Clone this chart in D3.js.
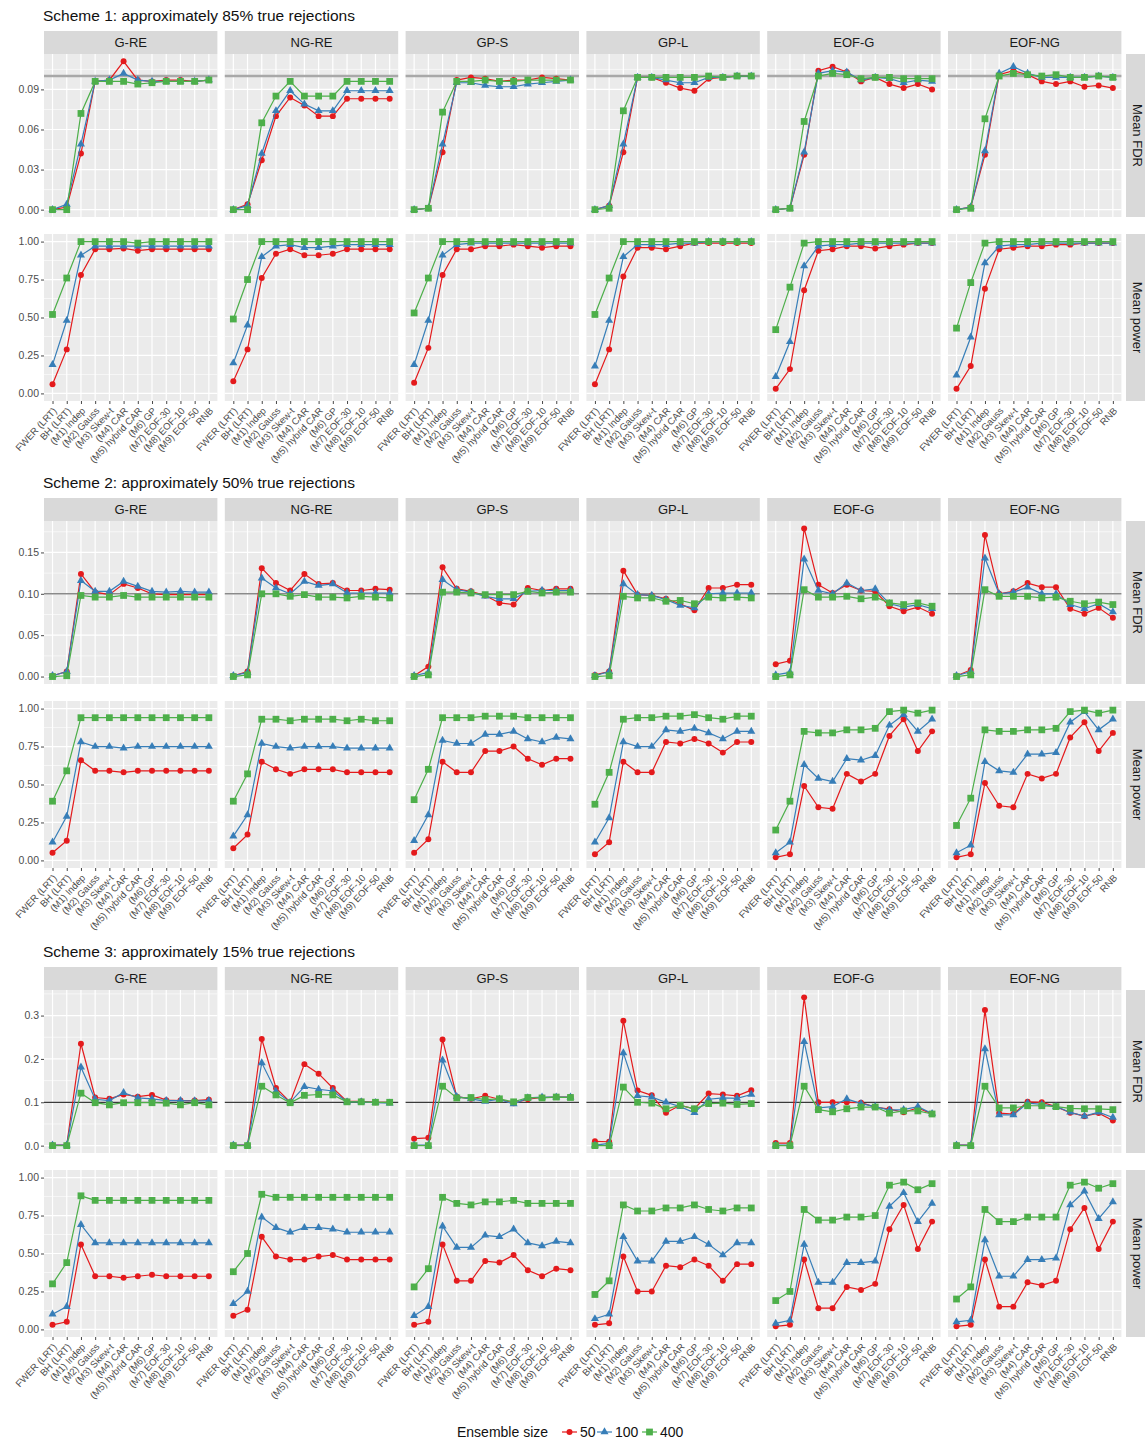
<!doctype html>
<html>
<head>
<meta charset="utf-8">
<style>
  body { margin: 0; background: #fff; }
  svg { display: block; font-family: "Liberation Sans", Arial, Helvetica, sans-serif; }
</style>
<script src="https://d3js.org/d3.v7.min.js"></script>
</head>
<body>
<script>
// categories
var methods = ["FWER (LRT)", "BH (LRT)", "(M1) Indep", "(M2) Gauss", "(M3) Skew-t", "(M4) CAR",
               "(M5) hybrid CAR", "(M6) GP", "(M7) EOF-30", "(M8) EOF-10", "(M9) EOF-50", "RNB"];
var models = ["G-RE", "NG-RE", "GP-S", "GP-L", "EOF-G", "EOF-NG"];
var sizes = ["50", "100", "400"];
var schemeTitles = ["Scheme 1: approximately 85% true rejections",
                    "Scheme 2: approximately 50% true rejections",
                    "Scheme 3: approximately 15% true rejections"];
var rowLabels = ["Mean FDR", "Mean power"];
var fdrTicks = [[0, 0.03, 0.06, 0.09], [0, 0.05, 0.10, 0.15], [0, 0.1, 0.2, 0.3]];
var powerTicks = [0, 0.25, 0.5, 0.75, 1];

// ---- Scheme 1, mean FDR (one row per model) ----
var s1Fdr50 = [
  [0, 0.002, 0.042, 0.096, 0.097, 0.111, 0.097, 0.096, 0.097, 0.097, 0.096, 0.097],
  [0, 0.004, 0.037, 0.070, 0.084, 0.078, 0.070, 0.070, 0.083, 0.083, 0.083, 0.083],
  [0, 0.001, 0.043, 0.097, 0.099, 0.098, 0.096, 0.097, 0.097, 0.099, 0.098, 0.097],
  [0, 0.003, 0.043, 0.099, 0.099, 0.095, 0.091, 0.089, 0.098, 0.099, 0.100, 0.100],
  [0, 0.001, 0.041, 0.104, 0.107, 0.103, 0.096, 0.099, 0.094, 0.091, 0.094, 0.090],
  [0, 0.002, 0.041, 0.101, 0.104, 0.101, 0.096, 0.094, 0.096, 0.092, 0.093, 0.091]
];
var s1Fdr100 = [
  [0, 0.004, 0.049, 0.096, 0.097, 0.102, 0.097, 0.096, 0.096, 0.096, 0.096, 0.097],
  [0, 0.003, 0.042, 0.074, 0.089, 0.079, 0.074, 0.074, 0.089, 0.089, 0.089, 0.089],
  [0, 0.001, 0.049, 0.095, 0.095, 0.093, 0.092, 0.092, 0.094, 0.095, 0.096, 0.097],
  [0, 0.003, 0.049, 0.099, 0.099, 0.097, 0.095, 0.095, 0.099, 0.099, 0.100, 0.100],
  [0, 0.001, 0.043, 0.102, 0.104, 0.103, 0.097, 0.099, 0.098, 0.095, 0.097, 0.096],
  [0, 0.002, 0.044, 0.102, 0.107, 0.102, 0.099, 0.099, 0.099, 0.099, 0.100, 0.099]
];
var s1Fdr400 = [
  [0, 0, 0.072, 0.096, 0.096, 0.096, 0.094, 0.095, 0.096, 0.096, 0.096, 0.097],
  [0, 0, 0.065, 0.085, 0.096, 0.085, 0.085, 0.085, 0.096, 0.096, 0.096, 0.096],
  [0, 0.001, 0.073, 0.096, 0.096, 0.097, 0.096, 0.096, 0.097, 0.097, 0.097, 0.097],
  [0, 0.001, 0.074, 0.099, 0.099, 0.099, 0.099, 0.099, 0.100, 0.099, 0.100, 0.100],
  [0, 0.001, 0.066, 0.100, 0.102, 0.101, 0.098, 0.099, 0.099, 0.098, 0.098, 0.098],
  [0, 0.001, 0.068, 0.100, 0.102, 0.101, 0.100, 0.101, 0.099, 0.099, 0.100, 0.099]
];
// ---- Scheme 1, mean power ----
var s1Pow50 = [
  [0.06, 0.29, 0.78, 0.95, 0.95, 0.955, 0.94, 0.95, 0.95, 0.95, 0.95, 0.95],
  [0.08, 0.29, 0.76, 0.92, 0.95, 0.91, 0.91, 0.92, 0.95, 0.95, 0.95, 0.95],
  [0.07, 0.30, 0.78, 0.95, 0.95, 0.97, 0.97, 0.98, 0.97, 0.96, 0.97, 0.97],
  [0.06, 0.29, 0.77, 0.96, 0.96, 0.95, 0.97, 0.99, 0.99, 0.99, 0.99, 0.99],
  [0.03, 0.16, 0.68, 0.94, 0.95, 0.97, 0.97, 0.955, 0.97, 0.98, 0.99, 0.99],
  [0.03, 0.18, 0.69, 0.95, 0.96, 0.97, 0.97, 0.98, 0.98, 0.99, 0.99, 0.99]
];
var s1Pow100 = [
  [0.19, 0.48, 0.91, 0.97, 0.97, 0.97, 0.97, 0.97, 0.97, 0.97, 0.97, 0.97],
  [0.20, 0.45, 0.90, 0.97, 0.98, 0.96, 0.96, 0.97, 0.98, 0.98, 0.98, 0.98],
  [0.19, 0.48, 0.91, 0.98, 0.99, 0.99, 0.99, 0.99, 0.99, 0.99, 0.99, 0.99],
  [0.18, 0.48, 0.90, 0.98, 0.98, 0.98, 0.99, 0.99, 1.00, 1.00, 1.00, 1.00],
  [0.11, 0.34, 0.84, 0.97, 0.98, 0.98, 0.99, 0.99, 0.99, 0.99, 0.99, 0.99],
  [0.12, 0.37, 0.86, 0.97, 0.98, 0.98, 0.99, 0.99, 0.99, 0.99, 0.99, 0.99]
];
var s1Pow400 = [
  [0.52, 0.76, 1.00, 1.00, 1.00, 1.00, 0.99, 1.00, 1.00, 1.00, 1.00, 1.00],
  [0.49, 0.75, 1.00, 1.00, 1.00, 1.00, 1.00, 1.00, 1.00, 1.00, 1.00, 1.00],
  [0.53, 0.76, 1.00, 1.00, 1.00, 1.00, 1.00, 1.00, 1.00, 1.00, 1.00, 1.00],
  [0.52, 0.76, 1.00, 1.00, 1.00, 1.00, 1.00, 1.00, 1.00, 1.00, 1.00, 1.00],
  [0.42, 0.70, 0.99, 1.00, 1.00, 1.00, 1.00, 1.00, 1.00, 1.00, 1.00, 1.00],
  [0.43, 0.73, 0.99, 1.00, 1.00, 1.00, 1.00, 1.00, 1.00, 1.00, 1.00, 1.00]
];

// ---- Scheme 2, mean FDR ----
var s2Fdr50 = [
  [0.001, 0.006, 0.124, 0.102, 0.099, 0.112, 0.107, 0.100, 0.099, 0.099, 0.099, 0.099],
  [0.001, 0.006, 0.131, 0.113, 0.104, 0.124, 0.112, 0.113, 0.104, 0.104, 0.106, 0.105],
  [0.001, 0.012, 0.132, 0.106, 0.103, 0.098, 0.089, 0.087, 0.107, 0.104, 0.106, 0.106],
  [0.002, 0.006, 0.128, 0.099, 0.098, 0.094, 0.088, 0.080, 0.107, 0.107, 0.111, 0.111],
  [0.015, 0.019, 0.179, 0.111, 0.101, 0.111, 0.104, 0.103, 0.085, 0.079, 0.084, 0.076],
  [0.001, 0.008, 0.171, 0.100, 0.103, 0.113, 0.108, 0.108, 0.082, 0.076, 0.083, 0.071]
];
var s2Fdr100 = [
  [0.001, 0.006, 0.116, 0.103, 0.103, 0.115, 0.109, 0.103, 0.102, 0.103, 0.102, 0.102],
  [0.001, 0.005, 0.119, 0.107, 0.100, 0.115, 0.110, 0.112, 0.101, 0.101, 0.101, 0.101],
  [0.001, 0.005, 0.117, 0.105, 0.102, 0.097, 0.094, 0.094, 0.103, 0.104, 0.104, 0.104],
  [0.001, 0.006, 0.112, 0.099, 0.098, 0.093, 0.086, 0.083, 0.100, 0.101, 0.101, 0.101],
  [0.002, 0.005, 0.142, 0.104, 0.100, 0.113, 0.104, 0.106, 0.088, 0.084, 0.087, 0.082],
  [0.001, 0.006, 0.143, 0.100, 0.102, 0.108, 0.100, 0.100, 0.087, 0.082, 0.088, 0.078]
];
var s2Fdr400 = [
  [0, 0.001, 0.098, 0.096, 0.096, 0.098, 0.096, 0.096, 0.096, 0.096, 0.096, 0.096],
  [0, 0.002, 0.100, 0.100, 0.097, 0.099, 0.096, 0.096, 0.095, 0.097, 0.096, 0.095],
  [0, 0.002, 0.102, 0.102, 0.101, 0.099, 0.099, 0.099, 0.103, 0.101, 0.102, 0.102],
  [0, 0.001, 0.097, 0.095, 0.095, 0.091, 0.092, 0.088, 0.096, 0.095, 0.096, 0.095],
  [0, 0.002, 0.105, 0.096, 0.096, 0.097, 0.094, 0.096, 0.089, 0.087, 0.089, 0.085],
  [0, 0.002, 0.105, 0.097, 0.097, 0.097, 0.095, 0.096, 0.091, 0.088, 0.090, 0.087]
];
// ---- Scheme 2, mean power ----
var s2Pow50 = [
  [0.05, 0.13, 0.66, 0.59, 0.59, 0.58, 0.59, 0.59, 0.59, 0.59, 0.59, 0.59],
  [0.08, 0.17, 0.65, 0.60, 0.57, 0.60, 0.60, 0.60, 0.58, 0.58, 0.58, 0.58],
  [0.05, 0.14, 0.65, 0.58, 0.58, 0.72, 0.72, 0.75, 0.67, 0.63, 0.67, 0.67],
  [0.04, 0.12, 0.65, 0.58, 0.58, 0.78, 0.77, 0.80, 0.77, 0.71, 0.78, 0.78],
  [0.02, 0.04, 0.49, 0.35, 0.34, 0.57, 0.52, 0.57, 0.82, 0.93, 0.72, 0.85],
  [0.02, 0.04, 0.51, 0.36, 0.35, 0.57, 0.54, 0.57, 0.81, 0.91, 0.72, 0.84]
];
var s2Pow100 = [
  [0.12, 0.29, 0.78, 0.75, 0.75, 0.74, 0.75, 0.75, 0.75, 0.75, 0.75, 0.75],
  [0.16, 0.30, 0.77, 0.75, 0.74, 0.75, 0.75, 0.75, 0.74, 0.74, 0.74, 0.74],
  [0.13, 0.30, 0.79, 0.77, 0.77, 0.83, 0.83, 0.85, 0.80, 0.78, 0.81, 0.80],
  [0.12, 0.28, 0.78, 0.75, 0.75, 0.86, 0.85, 0.87, 0.84, 0.80, 0.85, 0.85],
  [0.05, 0.12, 0.63, 0.54, 0.52, 0.67, 0.66, 0.69, 0.89, 0.96, 0.85, 0.93],
  [0.05, 0.10, 0.65, 0.59, 0.58, 0.70, 0.70, 0.71, 0.91, 0.98, 0.86, 0.93]
];
var s2Pow400 = [
  [0.39, 0.59, 0.94, 0.94, 0.94, 0.94, 0.94, 0.94, 0.94, 0.94, 0.94, 0.94],
  [0.39, 0.57, 0.93, 0.93, 0.92, 0.93, 0.93, 0.93, 0.92, 0.93, 0.92, 0.92],
  [0.40, 0.60, 0.94, 0.94, 0.94, 0.95, 0.95, 0.95, 0.94, 0.94, 0.94, 0.94],
  [0.37, 0.58, 0.93, 0.94, 0.94, 0.95, 0.95, 0.96, 0.94, 0.93, 0.95, 0.95],
  [0.20, 0.39, 0.85, 0.84, 0.84, 0.86, 0.86, 0.87, 0.98, 0.99, 0.97, 0.99],
  [0.23, 0.41, 0.86, 0.85, 0.85, 0.86, 0.86, 0.87, 0.98, 0.99, 0.97, 0.99]
];

// ---- Scheme 3, mean FDR ----
var s3Fdr50 = [
  [0.001, 0.001, 0.235, 0.111, 0.108, 0.118, 0.113, 0.117, 0.105, 0.104, 0.104, 0.106],
  [0.001, 0.001, 0.246, 0.133, 0.100, 0.188, 0.166, 0.133, 0.102, 0.102, 0.100, 0.100],
  [0.016, 0.018, 0.245, 0.113, 0.108, 0.115, 0.107, 0.098, 0.107, 0.111, 0.112, 0.112],
  [0.010, 0.009, 0.288, 0.127, 0.116, 0.076, 0.093, 0.085, 0.120, 0.118, 0.115, 0.128],
  [0.006, 0.006, 0.342, 0.100, 0.100, 0.100, 0.099, 0.089, 0.084, 0.077, 0.087, 0.073],
  [0.001, 0.001, 0.313, 0.075, 0.073, 0.101, 0.100, 0.090, 0.076, 0.068, 0.075, 0.058]
];
var s3Fdr100 = [
  [0.001, 0.001, 0.181, 0.107, 0.104, 0.122, 0.110, 0.108, 0.104, 0.104, 0.103, 0.104],
  [0.001, 0.001, 0.191, 0.125, 0.100, 0.136, 0.130, 0.126, 0.101, 0.101, 0.099, 0.098],
  [0.001, 0.001, 0.197, 0.113, 0.108, 0.102, 0.107, 0.096, 0.110, 0.112, 0.112, 0.112],
  [0.001, 0.005, 0.214, 0.115, 0.112, 0.100, 0.090, 0.076, 0.107, 0.110, 0.109, 0.118],
  [0.001, 0.001, 0.240, 0.087, 0.090, 0.108, 0.097, 0.090, 0.082, 0.083, 0.090, 0.074],
  [0.001, 0.001, 0.223, 0.071, 0.071, 0.098, 0.095, 0.090, 0.077, 0.068, 0.077, 0.065]
];
var s3Fdr400 = [
  [0, 0, 0.121, 0.099, 0.094, 0.099, 0.099, 0.099, 0.098, 0.094, 0.099, 0.094],
  [0, 0, 0.137, 0.117, 0.099, 0.116, 0.118, 0.117, 0.101, 0.101, 0.100, 0.100],
  [0, 0, 0.137, 0.110, 0.111, 0.106, 0.108, 0.101, 0.111, 0.110, 0.112, 0.111],
  [0, 0, 0.135, 0.100, 0.098, 0.085, 0.093, 0.085, 0.097, 0.098, 0.095, 0.097],
  [0, 0, 0.137, 0.083, 0.078, 0.085, 0.089, 0.089, 0.075, 0.080, 0.080, 0.073],
  [0, 0, 0.137, 0.087, 0.087, 0.092, 0.092, 0.090, 0.086, 0.085, 0.085, 0.083]
];
// ---- Scheme 3, mean power ----
var s3Pow50 = [
  [0.03, 0.05, 0.56, 0.35, 0.35, 0.34, 0.35, 0.36, 0.35, 0.35, 0.35, 0.35],
  [0.09, 0.13, 0.61, 0.48, 0.46, 0.46, 0.48, 0.49, 0.46, 0.46, 0.46, 0.46],
  [0.03, 0.05, 0.56, 0.32, 0.32, 0.45, 0.44, 0.49, 0.39, 0.35, 0.40, 0.39],
  [0.03, 0.04, 0.48, 0.25, 0.25, 0.42, 0.41, 0.46, 0.42, 0.32, 0.43, 0.43],
  [0.02, 0.03, 0.46, 0.14, 0.14, 0.28, 0.26, 0.30, 0.66, 0.82, 0.53, 0.71],
  [0.02, 0.03, 0.46, 0.15, 0.15, 0.31, 0.29, 0.32, 0.66, 0.80, 0.53, 0.71]
];
var s3Pow100 = [
  [0.10, 0.15, 0.69, 0.57, 0.57, 0.57, 0.57, 0.57, 0.57, 0.57, 0.57, 0.57],
  [0.17, 0.25, 0.74, 0.67, 0.64, 0.67, 0.67, 0.66, 0.64, 0.64, 0.64, 0.64],
  [0.09, 0.15, 0.68, 0.54, 0.54, 0.62, 0.61, 0.66, 0.57, 0.55, 0.58, 0.57],
  [0.07, 0.10, 0.61, 0.45, 0.45, 0.58, 0.58, 0.61, 0.56, 0.49, 0.57, 0.57],
  [0.04, 0.06, 0.56, 0.31, 0.31, 0.44, 0.44, 0.45, 0.81, 0.90, 0.71, 0.83],
  [0.05, 0.06, 0.59, 0.35, 0.35, 0.46, 0.46, 0.47, 0.82, 0.91, 0.73, 0.84]
];
var s3Pow400 = [
  [0.30, 0.44, 0.88, 0.85, 0.85, 0.85, 0.85, 0.85, 0.85, 0.85, 0.85, 0.85],
  [0.38, 0.50, 0.89, 0.87, 0.87, 0.87, 0.87, 0.87, 0.87, 0.87, 0.87, 0.87],
  [0.28, 0.40, 0.87, 0.83, 0.82, 0.84, 0.84, 0.85, 0.83, 0.83, 0.83, 0.83],
  [0.23, 0.32, 0.82, 0.78, 0.78, 0.80, 0.80, 0.82, 0.79, 0.78, 0.80, 0.80],
  [0.19, 0.25, 0.79, 0.72, 0.72, 0.74, 0.74, 0.75, 0.95, 0.97, 0.92, 0.96],
  [0.20, 0.28, 0.79, 0.71, 0.71, 0.74, 0.74, 0.74, 0.95, 0.97, 0.93, 0.96]
];

var schemes = [
  { fdr: [s1Fdr50, s1Fdr100, s1Fdr400], pow: [s1Pow50, s1Pow100, s1Pow400] },
  { fdr: [s2Fdr50, s2Fdr100, s2Fdr400], pow: [s2Pow50, s2Pow100, s2Pow400] },
  { fdr: [s3Fdr50, s3Fdr100, s3Fdr400], pow: [s3Pow50, s3Pow100, s3Pow400] }
];

// ---- layout ----
var W = 1145, H = 1442;
var left = 44, panelW = 173.4, gapX = 7.4;
var blockTop = [0, 467, 936];
var fdrDomains = [[-0.0055, 0.1165], [-0.009, 0.188], [-0.017, 0.359]];
var fdrMinor = [[0.015, 0.045, 0.075, 0.105], [0.025, 0.075, 0.125, 0.175], [0.05, 0.15, 0.25, 0.35]];
var fdrFormat = [d3.format(".2f"), d3.format(".2f"), d3.format(".1f")];
var refLine = [{ c: "#a8a8a8", w: 2.4 }, { c: "#8a8a8a", w: 1.6 }, { c: "#3a3a3a", w: 1.2 }];
var colors = ["#E41A1C", "#377EB8", "#4DAF4A"];
var shapes = [d3.symbolCircle, d3.symbolTriangle, d3.symbolSquare];
var shapeSize = [28, 28, 46];

var svg = d3.select("body").append("svg").attr("width", W).attr("height", H);
svg.append("rect").attr("width", W).attr("height", H).attr("fill", "#fff");

var x = d3.scalePoint().domain(methods).range([0, panelW]).padding(0.6);

function drawPanel(g, y, ticks, minor, series, ref) {
  g.append("rect").attr("width", panelW).attr("height", y.range()[0] - y.range()[1])
    .attr("y", y.range()[1]).attr("fill", "#EBEBEB");
  g.selectAll(".minor").data(minor.filter(function(v) { return v >= y.domain()[0] && v <= y.domain()[1]; }))
    .enter().append("line")
    .attr("x1", 0).attr("x2", panelW)
    .attr("y1", function(d) { return y(d); }).attr("y2", function(d) { return y(d); })
    .attr("stroke", "#fff").attr("stroke-width", 0.6);
  g.selectAll(".major").data(ticks).enter().append("line")
    .attr("x1", 0).attr("x2", panelW)
    .attr("y1", function(d) { return y(d); }).attr("y2", function(d) { return y(d); })
    .attr("stroke", "#fff").attr("stroke-width", 1.2);
  g.selectAll(".vgrid").data(methods).enter().append("line")
    .attr("x1", function(d) { return x(d); }).attr("x2", function(d) { return x(d); })
    .attr("y1", y.range()[1]).attr("y2", y.range()[0])
    .attr("stroke", "#fff").attr("stroke-width", 1.2);
  if (ref) {
    g.append("line").attr("x1", 0).attr("x2", panelW)
      .attr("y1", y(0.1)).attr("y2", y(0.1))
      .attr("stroke", ref.c).attr("stroke-width", ref.w);
  }
  var line = d3.line().x(function(d, i) { return x(methods[i]); }).y(function(d) { return y(d); });
  series.forEach(function(vals, s) {
    g.append("path").datum(vals).attr("d", line)
      .attr("fill", "none").attr("stroke", colors[s]).attr("stroke-width", 1.2);
    g.selectAll(".pt" + s).data(vals).enter().append("path")
      .attr("transform", function(d, i) { return "translate(" + x(methods[i]) + "," + y(d) + ")"; })
      .attr("d", d3.symbol().type(shapes[s]).size(shapeSize[s]))
      .attr("fill", colors[s]);
  });
}

function styleAxis(a) {
  a.select(".domain").remove();
  a.selectAll(".tick line").attr("stroke", "#333").attr("stroke-width", 0.9);
  a.selectAll(".tick text").attr("fill", "#4D4D4D").attr("font-size", 10.5).attr("font-family", null);
}

schemes.forEach(function(sc, k) {
  var o = blockTop[k];
  svg.append("text").attr("x", 43).attr("y", o + 20.5)
    .attr("font-size", 15.5).attr("fill", "#111").text(schemeTitles[k]);

  var yF = d3.scaleLinear().domain(fdrDomains[k]).range([o + 217, o + 54]);
  var yP = d3.scaleLinear().domain([-0.05, 1.05]).range([o + 401, o + 234]);

  models.forEach(function(m, j) {
    var px = left + j * (panelW + gapX);
    // top strip
    svg.append("rect").attr("x", px).attr("y", o + 31).attr("width", panelW).attr("height", 23)
      .attr("fill", "#D9D9D9");
    svg.append("text").attr("x", px + panelW / 2).attr("y", o + 47).attr("text-anchor", "middle")
      .attr("font-size", 13).attr("fill", "#1A1A1A").text(m);

    var gF = svg.append("g").attr("transform", "translate(" + px + ",0)");
    drawPanel(gF, yF, fdrTicks[k], fdrMinor[k], sc.fdr.map(function(a) { return a[j]; }), refLine[k]);
    var gP = svg.append("g").attr("transform", "translate(" + px + ",0)");
    drawPanel(gP, yP, powerTicks, [0.125, 0.375, 0.625, 0.875], sc.pow.map(function(a) { return a[j]; }), null);

    var ax = svg.append("g").attr("transform", "translate(" + px + "," + (o + 401) + ")")
      .call(d3.axisBottom(x).tickSize(3).tickPadding(2));
    styleAxis(ax);
    ax.selectAll(".tick text").attr("font-size", 9.6).attr("text-anchor", "end")
      .attr("dy", "0.35em").attr("y", 0)
      .attr("transform", "translate(2,8) rotate(-47)");
  });

  // y axes on left
  var ayF = svg.append("g").attr("transform", "translate(" + left + ",0)")
    .call(d3.axisLeft(yF).tickValues(fdrTicks[k]).tickFormat(fdrFormat[k]).tickSize(3).tickPadding(2));
  styleAxis(ayF);
  var ayP = svg.append("g").attr("transform", "translate(" + left + ",0)")
    .call(d3.axisLeft(yP).tickValues(powerTicks).tickFormat(d3.format(".2f")).tickSize(3).tickPadding(2));
  styleAxis(ayP);

  // right strips
  [[o + 54, o + 217], [o + 234, o + 401]].forEach(function(r, i) {
    svg.append("rect").attr("x", 1126).attr("y", r[0]).attr("width", 24).attr("height", r[1] - r[0])
      .attr("fill", "#D9D9D9");
    svg.append("text").attr("transform", "translate(1133," + ((r[0] + r[1]) / 2) + ") rotate(90)")
      .attr("text-anchor", "middle").attr("font-size", 13).attr("fill", "#1A1A1A").text(rowLabels[i]);
  });
});

// legend
var lg = svg.append("g").attr("transform", "translate(0,1432)");
lg.append("text").attr("x", 457).attr("y", 5).attr("font-size", 14).attr("fill", "#111").text("Ensemble size");
var keyX = [562, 597, 642];
sizes.forEach(function(s, i) {
  lg.append("line").attr("x1", keyX[i]).attr("x2", keyX[i] + 15).attr("y1", 0).attr("y2", 0)
    .attr("stroke", colors[i]).attr("stroke-width", 1.2);
  lg.append("path").attr("transform", "translate(" + (keyX[i] + 7.5) + ",0)")
    .attr("d", d3.symbol().type(shapes[i]).size(shapeSize[i])).attr("fill", colors[i]);
  lg.append("text").attr("x", keyX[i] + 18).attr("y", 5).attr("font-size", 14).attr("fill", "#111").text(s);
});
</script>
</body>
</html>
